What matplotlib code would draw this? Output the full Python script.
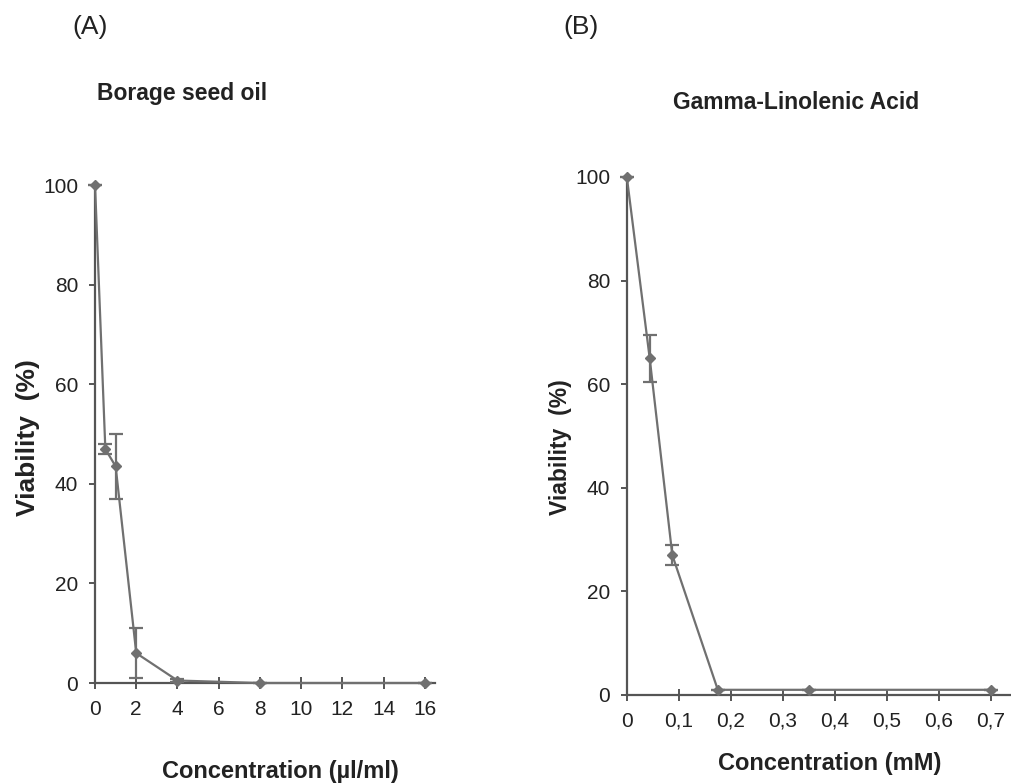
import matplotlib

matplotlib.use("Agg")
import matplotlib.pyplot as plt

plt.rcParams["font.family"] = ["Liberation Sans", "DejaVu Sans"]

# (A) Borage seed oil
oil_conc = [0, 0.5, 1, 2, 4, 8, 16]
oil_viab = [100, 47, 43.5, 6, 0.5, 0, 0]
oil_err = [0, 1, 6.5, 5, 0.3, 0, 0]
oil_ticks = [0, 2, 4, 6, 8, 10, 12, 14, 16]

# (B) Gamma-linolenic acid
gla_conc = [0, 0.044, 0.0875, 0.175, 0.35, 0.7]
gla_viab = [100, 65, 27, 1, 1, 1]
gla_err = [0, 4.5, 2, 0, 0, 0]
gla_ticks = [0, 0.1, 0.2, 0.3, 0.4, 0.5, 0.6, 0.7]
gla_labels = ["0", "0,1", "0,2", "0,3", "0,4", "0,5", "0,6", "0,7"]

y_ticks = [0, 20, 40, 60, 80, 100]

LINE = "#707070"
AXIS = "#555555"
TEXT = "#222222"


def style_axes(ax):
    for side in ("top", "right"):
        ax.spines[side].set_visible(False)
    for side in ("left", "bottom"):
        ax.spines[side].set_color(AXIS)
        ax.spines[side].set_linewidth(1.6)
    ax.tick_params(axis="x", direction="inout", length=8, width=1.4,
                   color=AXIS, labelsize=15, pad=8, labelcolor=TEXT)
    ax.tick_params(axis="y", direction="out", length=4, width=1.4,
                   color=AXIS, labelsize=15, pad=8, labelcolor=TEXT)
    ax.set_yticks(y_ticks)
    ax.set_ylim(0, 100)


def draw(ax, x, y, err):
    ax.errorbar(x, y, yerr=err, color=LINE, lw=1.6, marker="D", ms=5,
                capsize=5, capthick=1.6, elinewidth=1.6, clip_on=False,
                zorder=3)


fig = plt.figure(figsize=(10.11, 7.83), dpi=100)

ax1 = fig.add_axes([0.094, 0.1277, 0.3363, 0.636])
draw(ax1, oil_conc, oil_viab, oil_err)
style_axes(ax1)
ax1.set_xlim(0, 16.5)
ax1.set_xticks(oil_ticks)

ax2 = fig.add_axes([0.620, 0.1124, 0.3798, 0.6616])
draw(ax2, gla_conc, gla_viab, gla_err)
style_axes(ax2)
ax2.set_xlim(0, 0.7385)
ax2.set_xticks(gla_ticks)
ax2.set_xticklabels(gla_labels)

fig.text(0.072, 0.9655, "(A)", fontsize=19, va="center", color=TEXT)
fig.text(0.557, 0.9655, "(B)", fontsize=19, va="center", color=TEXT)
fig.text(0.096, 0.881, "Borage seed oil", fontsize=16.5, weight="bold",
         va="center", color=TEXT)
fig.text(0.6657, 0.8685, "Gamma-Linolenic Acid", fontsize=16.5, weight="bold",
         va="center", color=TEXT)

fig.text(0.0277, 0.4406, "Viability  (%)", fontsize=19, weight="bold",
         rotation=90, ha="center", va="center", color=TEXT)
fig.text(0.554, 0.429, "Viability  (%)", fontsize=16.5, weight="bold",
         rotation=90, ha="center", va="center", color=TEXT)

fig.text(0.277, 0.0153, "Concentration (\u00b5l/ml)", fontsize=17, weight="bold",
         ha="center", va="center", color=TEXT)
fig.text(0.821, 0.0255, "Concentration (mM)", fontsize=17, weight="bold",
         ha="center", va="center", color=TEXT)

fig.savefig("out.png", dpi=100)
plt.close(fig)
